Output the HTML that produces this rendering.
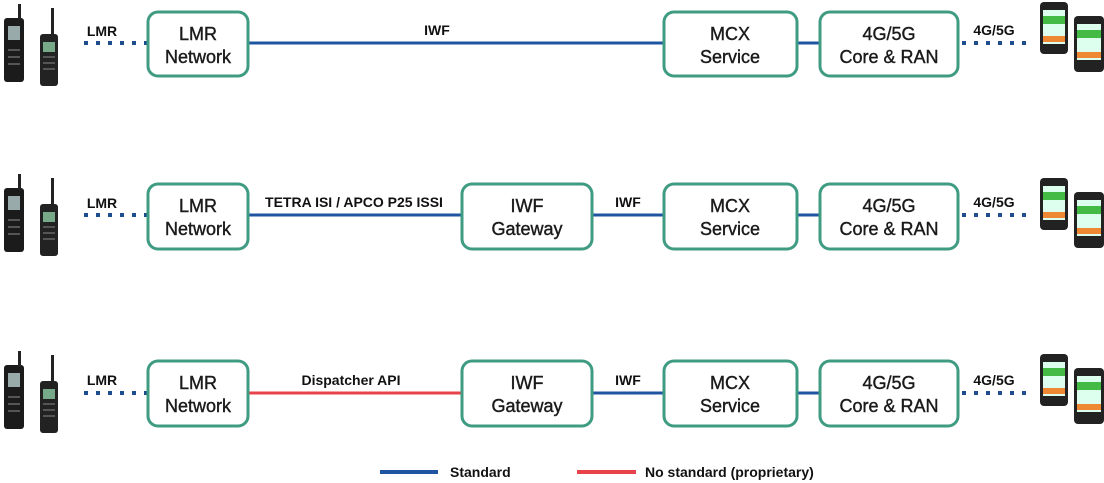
<!DOCTYPE html>
<html><head><meta charset="utf-8"><style>
body{margin:0;background:#fff;width:1104px;height:483px;overflow:hidden}
svg{display:block}
text{font-family:"Liberation Sans",sans-serif;font-weight:bold;fill:#111}
.bx{fill:#fff;stroke:#3f9c82;stroke-width:3}
.bt{font-size:18px;font-weight:normal;fill:#1a1a1a;stroke:#1a1a1a;stroke-width:0.4;text-anchor:middle}
.lb{font-size:14px;text-anchor:middle}
.dot{stroke:#1f4e8f;stroke-width:4;stroke-dasharray:4 8}
.bl{stroke:#1f55a0;stroke-width:3}
.rd{stroke:#e8434a;stroke-width:3}
</style></head><body>
<svg width="1104" height="483" viewBox="0 0 1104 483">
<defs>
<g id="radios">
 <rect x="4" y="14" width="20" height="64" rx="3" fill="#1b1b1b"/>
 <rect x="18" y="0" width="3" height="16" fill="#222"/>
 <rect x="8" y="22" width="12" height="14" fill="#9aa"/>
 <rect x="40" y="30" width="18" height="52" rx="3" fill="#222"/>
 <rect x="51" y="4" width="3" height="28" fill="#222"/>
 <rect x="43" y="38" width="12" height="10" fill="#7a8"/>
 <g fill="#555"><rect x="43" y="52" width="12" height="2"/><rect x="43" y="58" width="12" height="2"/><rect x="43" y="64" width="12" height="2"/><rect x="8" y="45" width="12" height="2"/><rect x="8" y="52" width="12" height="2"/><rect x="8" y="59" width="12" height="2"/></g>
</g>
<g id="phones">
 <rect x="0" y="0" width="28" height="52" rx="4" fill="#222"/>
 <rect x="3" y="8" width="22" height="34" fill="#dfe"/>
 <rect x="3" y="14" width="22" height="8" fill="#4b4"/>
 <rect x="3" y="34" width="22" height="6" fill="#e83"/>
 <rect x="34" y="14" width="30" height="56" rx="4" fill="#222"/>
 <rect x="37" y="22" width="24" height="36" fill="#dfe"/>
 <rect x="37" y="28" width="24" height="8" fill="#4b4"/>
 <rect x="37" y="50" width="24" height="6" fill="#e83"/>
</g>
</defs>

<!-- Row 1 -->
<use href="#radios" x="0" y="4"/>
<text x="102" y="36" class="lb">LMR</text>
<line x1="84" y1="43" x2="148" y2="43" class="dot"/>
<line x1="248" y1="43" x2="664" y2="43" class="bl"/>
<text x="437" y="35" class="lb">IWF</text>
<line x1="797" y1="43" x2="820" y2="43" class="bl"/>
<line x1="962" y1="43" x2="1028" y2="43" class="dot"/>
<text x="994" y="35" class="lb">4G/5G</text>
<rect x="148" y="12" width="100" height="64" rx="10" class="bx"/>
<text x="198" y="40" class="bt">LMR</text><text x="198" y="63" class="bt">Network</text>
<rect x="664" y="12" width="133" height="64" rx="10" class="bx"/>
<text x="730" y="40" class="bt">MCX</text><text x="730" y="63" class="bt">Service</text>
<rect x="820" y="12" width="138" height="64" rx="10" class="bx"/>
<text x="889" y="40" class="bt">4G/5G</text><text x="889" y="63" class="bt">Core &amp; RAN</text>
<use href="#phones" x="1040" y="2"/>

<!-- Row 2 -->
<use href="#radios" x="0" y="174"/>
<text x="102" y="208" class="lb">LMR</text>
<line x1="84" y1="215" x2="148" y2="215" class="dot"/>
<line x1="248" y1="215" x2="462" y2="215" class="bl"/>
<text x="354" y="207" class="lb">TETRA ISI / APCO P25 ISSI</text>
<line x1="592" y1="215" x2="664" y2="215" class="bl"/>
<text x="628" y="207" class="lb">IWF</text>
<line x1="797" y1="215" x2="820" y2="215" class="bl"/>
<line x1="962" y1="215" x2="1028" y2="215" class="dot"/>
<text x="994" y="207" class="lb">4G/5G</text>
<rect x="148" y="184" width="100" height="65" rx="10" class="bx"/>
<text x="198" y="212" class="bt">LMR</text><text x="198" y="235" class="bt">Network</text>
<rect x="462" y="184" width="130" height="65" rx="10" class="bx"/>
<text x="527" y="212" class="bt">IWF</text><text x="527" y="235" class="bt">Gateway</text>
<rect x="664" y="184" width="133" height="65" rx="10" class="bx"/>
<text x="730" y="212" class="bt">MCX</text><text x="730" y="235" class="bt">Service</text>
<rect x="820" y="184" width="138" height="65" rx="10" class="bx"/>
<text x="889" y="212" class="bt">4G/5G</text><text x="889" y="235" class="bt">Core &amp; RAN</text>
<use href="#phones" x="1040" y="178"/>

<!-- Row 3 -->
<use href="#radios" x="0" y="351"/>
<text x="102" y="385" class="lb">LMR</text>
<line x1="84" y1="393" x2="148" y2="393" class="dot"/>
<line x1="248" y1="393" x2="462" y2="393" class="rd"/>
<text x="351" y="385" class="lb">Dispatcher API</text>
<line x1="592" y1="393" x2="664" y2="393" class="bl"/>
<text x="628" y="385" class="lb">IWF</text>
<line x1="797" y1="393" x2="820" y2="393" class="bl"/>
<line x1="962" y1="393" x2="1028" y2="393" class="dot"/>
<text x="994" y="385" class="lb">4G/5G</text>
<rect x="148" y="361" width="100" height="65" rx="10" class="bx"/>
<text x="198" y="389" class="bt">LMR</text><text x="198" y="412" class="bt">Network</text>
<rect x="462" y="361" width="130" height="65" rx="10" class="bx"/>
<text x="527" y="389" class="bt">IWF</text><text x="527" y="412" class="bt">Gateway</text>
<rect x="664" y="361" width="133" height="65" rx="10" class="bx"/>
<text x="730" y="389" class="bt">MCX</text><text x="730" y="412" class="bt">Service</text>
<rect x="820" y="361" width="138" height="65" rx="10" class="bx"/>
<text x="889" y="389" class="bt">4G/5G</text><text x="889" y="412" class="bt">Core &amp; RAN</text>
<use href="#phones" x="1040" y="354"/>

<!-- Legend -->
<line x1="380" y1="472" x2="438" y2="472" stroke="#1f55a0" stroke-width="4"/>
<text x="450" y="477" style="font-size:14px">Standard</text>
<line x1="577" y1="472" x2="636" y2="472" stroke="#e8434a" stroke-width="4"/>
<text x="645" y="477" style="font-size:14px">No standard (proprietary)</text>
</svg>
</body></html>
